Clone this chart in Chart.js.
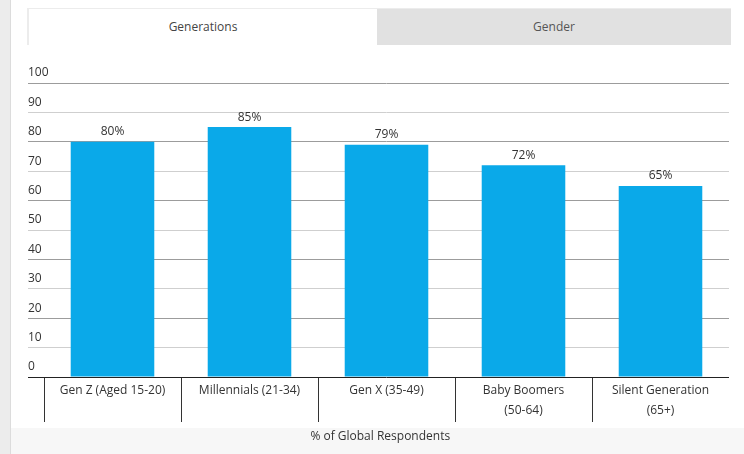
<!DOCTYPE html>
<html>
<head>
<meta charset="utf-8">
<script src="https://cdn.jsdelivr.net/npm/chart.js@4.4.1/dist/chart.umd.min.js"></script>
<style>
  html, body { margin: 0; padding: 0; }
  body { width: 744px; height: 454px; position: relative; overflow: hidden; background: #fff; font-family: 'Open Sans', sans-serif; }
  .strip { position: absolute; left: 0; top: 0; width: 10px; height: 454px; background: #ececec; border-right: 1px solid #dcdcdc; }
  .footer { position: absolute; left: 11px; top: 428px; width: 733px; height: 26px; background: #f7f7f7; }
  .tabs { position: absolute; left: 27px; top: 8px; width: 704px; height: 37px; border-top: 1px solid #ececec; display: flex; }
  .tab { height: 36px; line-height: 36px; text-align: center; font-size: 12px; color: #444; }
  .tab.active { width: 348px; background: #fff; border-left: 2px solid #ececec; }
  .tab.off { flex: 1; background: #e1e1e1; color: #555; }
  .wrap { position: absolute; left: 28px; top: 60px; width: 701px; height: 394px; }
</style>
</head>
<body>
<div class="strip"></div>
<div class="footer"></div>
<div class="tabs">
  <div class="tab active">Generations</div>
  <div class="tab off">Gender</div>
</div>
<div class="wrap"><canvas id="chart"></canvas></div>
<script>
// values
const categories = [
  'Gen Z (Aged 15-20)',
  'Millennials (21-34)',
  'Gen X (35-49)',
  ['Baby Boomers', '(50-64)'],
  ['Silent Generation', '(65+)']
];
const shares = [80, 85, 79, 72, 65];
const yTicks = [0, 10, 20, 30, 40, 50, 60, 70, 80, 90, 100];
const axisTitle = '% of Global Respondents';

const FONT = "'Open Sans', sans-serif";

// percentage labels above the bars
const barLabels = {
  id: 'barLabels',
  afterDatasetsDraw(chart) {
    const ctx = chart.ctx;
    const meta = chart.getDatasetMeta(0);
    ctx.save();
    ctx.font = '12px ' + FONT;
    ctx.fillStyle = '#333';
    ctx.textAlign = 'center';
    ctx.textBaseline = 'middle';
    meta.data.forEach((bar, i) => {
      ctx.fillText(shares[i] + '%', bar.x, bar.y - 10);
    });
    ctx.restore();
  }
};

new Chart(document.getElementById('chart'), {
  type: 'bar',
  data: {
    labels: categories,
    datasets: [{
      data: shares,
      backgroundColor: '#0aa9e9',
      categoryPercentage: 0.61,
      barPercentage: 1
    }]
  },
  options: {
    responsive: true,
    maintainAspectRatio: false,
    animation: false,
    layout: { padding: { top: 23, right: 0, bottom: 0, left: 0 } },
    plugins: {
      legend: { display: false },
      tooltip: { enabled: false }
    },
    scales: {
      x: {
        border: { display: false },
        grid: {
          display: true,
          drawOnChartArea: false,
          drawTicks: true,
          tickLength: 45,
          color: '#333',
          offset: true
        },
        ticks: {
          color: '#333',
          font: { family: FONT, size: 12, lineHeight: '20px' },
          padding: -41,
          maxRotation: 0,
          autoSkip: false
        },
        title: {
          display: true,
          // trailing spaces nudge the centred title a little left, as in the source
          text: axisTitle + '\u00a0\u00a0\u00a0\u00a0',
          color: '#333',
          font: { family: FONT, size: 12 },
          padding: { top: 0, bottom: 10 }
        },
        afterFit(scale) { scale.height = 77; }
      },
      y: {
        min: 0,
        max: 100,
        border: { display: false },
        grid: {
          drawTicks: true,
          tickLength: 16,
          color: (c) => c.tick.value === 0 ? '#222' : (c.index % 2 === 0 ? '#9c9c9c' : '#cfcfcf'),
          lineWidth: 1
        },
        afterBuildTicks(scale) { scale.ticks = yTicks.map(v => ({ value: v })); },
        ticks: {
          mirror: true,
          padding: -16,
          labelOffset: -10,
          color: '#333',
          font: { family: FONT, size: 12 }
        },
        afterFit(scale) { scale.width = 16; }
      }
    }
  },
  plugins: [barLabels]
});
</script>
</body>
</html>
